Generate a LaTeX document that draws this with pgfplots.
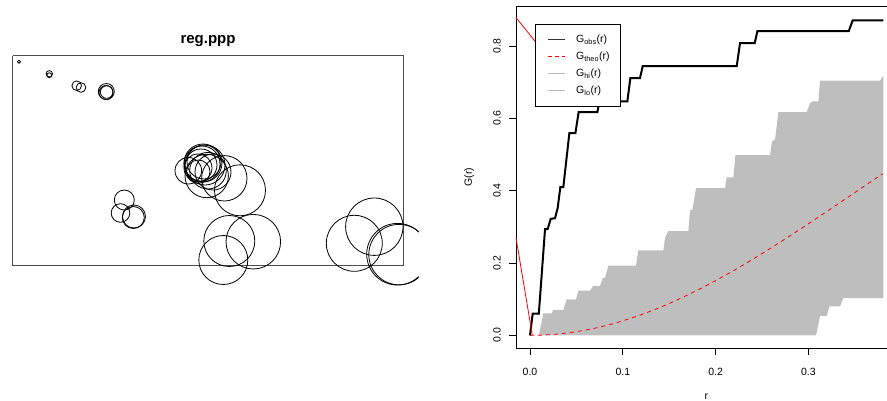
\documentclass[border=0pt]{standalone}
\usepackage{fontspec}
\setmainfont{Liberation Sans}
\usepackage{pgfplots}
\pgfplotsset{compat=1.18}
\usepackage{pgfplotstable}
\definecolor{rgrey}{RGB}{190,190,190}
\definecolor{rred}{RGB}{255,0,0}

\pgfplotstableread{
x y r
19 61.7 1.6
49.3 73.8 3.2
49.3 75.2 2.4
76.7 85.7 4.8
81.0 87.5 4.8
106.3 91.5 8.0
106.0 92.5 7.0
106.7 92.0 6.3
124.3 200 10
120.5 213 9.3
133.3 217.5 11
134 216.5 11.5
203 163 19
202 164 18
204 162 17
201 165 16
205 165 20
198 168 14
208 170.7 18.3
188.3 170.7 13.3
198.3 171.7 11.7
206.7 176 21.7
224.3 178.3 22.7
213 172 18
240 190.3 25.5
229.3 241 25.5
253.3 241.7 27.3
223.3 260 24.5
374.3 226.7 28.7
354.3 243.3 28
397.5 254.2 30.8
399 254.6 30.2
}\circles

\pgfplotstableread{
x y
0 0
0.0029 0.06
0.0095 0.06
0.0162 0.294
0.0190 0.294
0.0223 0.322
0.0270 0.324
0.0298 0.352
0.0327 0.410
0.0359 0.410
0.0424 0.559
0.0489 0.559
0.0524 0.617
0.0726 0.617
0.0747 0.647
0.1049 0.647
0.1081 0.711
0.1185 0.711
0.1214 0.744
0.2227 0.744
0.2263 0.808
0.2421 0.808
0.2450 0.841
0.3434 0.841
0.3477 0.871
0.3807 0.871
}\gobs

\pgfplotstableread{
x y
0 0
0.01 0.00041
0.02 0.00164
0.03 0.00368
0.04 0.00654
0.05 0.01020
0.06 0.01465
0.07 0.01989
0.08 0.02590
0.09 0.03266
0.10 0.04017
0.11 0.04840
0.12 0.05733
0.13 0.06694
0.14 0.07722
0.15 0.08813
0.16 0.09964
0.17 0.11175
0.18 0.12440
0.19 0.13758
0.20 0.15130
0.21 0.16541
0.22 0.18000
0.23 0.19500
0.24 0.21040
0.25 0.22607
0.26 0.24210
0.27 0.25839
0.28 0.27490
0.29 0.29164
0.30 0.30860
0.31 0.32565
0.32 0.34280
0.33 0.36013
0.34 0.37750
0.35 0.39483
0.36 0.41220
0.37 0.42954
0.38 0.44680
}\gtheo

\pgfplotstableread{
x y
0.0095 0
0.0144 0.0605
0.0233 0.0605
0.0251 0.070
0.0359 0.070
0.0395 0.0995
0.0496 0.0995
0.0521 0.124
0.0647 0.124
0.0682 0.137
0.0754 0.137
0.0783 0.158
0.0808 0.158
0.0844 0.1926
0.1142 0.1926
0.1167 0.235
0.1437 0.235
0.1455 0.270
0.1490 0.288
0.1706 0.288
0.1724 0.347
0.1749 0.347
0.1789 0.407
0.2101 0.407
0.2119 0.437
0.2191 0.437
0.2213 0.498
0.2586 0.498
0.2608 0.536
0.2640 0.541
0.2676 0.617
0.2981 0.617
0.3017 0.642
0.3046 0.647
0.3107 0.647
0.3125 0.704
0.3772 0.704
0.3807 0.718
0.3807 0.103
0.3376 0.103
0.3340 0.080
0.3226 0.080
0.3197 0.054
0.3125 0.054
0.3082 0
}\genv

\begin{document}
\begin{tikzpicture}
\useasboundingbox (0,0) rectangle (887pt,400pt);
% ---------------- left panel: point pattern ----------------
\begin{scope}
\clip (0pt,0pt) rectangle (418.5pt,400pt);
\begin{axis}[
  at={(0pt,0pt)}, anchor=south west,
  scale only axis, width=418.5pt, height=400pt,
  xmin=0, xmax=418.5, ymin=0, ymax=400, y dir=reverse,
  hide axis, clip=true,
]
\addplot[draw=black!70, line width=1pt] coordinates {(12.7,55.7) (403.7,55.7) (403.7,265.2) (12.7,265.2) (12.7,55.7)};
\addplot[scatter, only marks, mark=o,
  scatter/use mapped color={draw=black, fill=none},
  mark options={line width=0.8pt},
  visualization depends on={\thisrow{r} \as \prad},
  scatter/@pre marker code/.append style={/tikz/mark size=\prad}]
  table[x=x, y=y] {\circles};
\node[font=\bfseries\fontsize{15}{18}\selectfont, anchor=center] at (axis cs:208,41.5) {reg.ppp};
\end{axis}
\end{scope}
% ---------------- right panel: G envelope ----------------
\begin{axis}[
  at={(515.9pt,52pt)}, anchor=south west,
  scale only axis, width=380.9pt, height=341.4pt,
  xmin=-0.0152, xmax=0.3952, ymin=-0.03496, ymax=0.9089,
  axis line style={line width=0.8pt},
  tick align=outside, tick pos=left, major tick length=7pt,
  tick style={black, line width=0.8pt},
  xtick={0,0.1,0.2,0.3}, ytick={0,0.2,0.4,0.6,0.8},
  /pgf/number format/assume math mode=true,
  /pgf/number format/.cd, fixed, fixed zerofill, precision=1, /pgfplots/.cd,
  ticklabel style={font=\fontsize{10.5}{12}\selectfont},
  yticklabel style={rotate=90, anchor=south, inner sep=0pt},
  xticklabel style={anchor=north, inner sep=0pt},
  xticklabel shift=12.5pt, yticklabel shift=8pt,
  xlabel={r}, ylabel={G(r)},
  label style={font=\fontsize{10.5}{12}\selectfont},
  xlabel style={at={(axis description cs:0.5,-0.1508)}, anchor=base},
  ylabel style={at={(axis description cs:-0.1155,0.5)}, anchor=base, rotate=0},
  legend cell align=left,
  legend style={at={(axis cs:0.0057,0.8618)}, anchor=north west,
    draw=black, line width=0.8pt, inner xsep=11pt, inner ysep=7pt,
    font=\fontsize{10.5}{12}\selectfont, row sep=0pt,
    nodes={inner sep=0pt, minimum height=17pt, anchor=west},
    /tikz/every odd column/.style={column sep=10pt}},
]
\addplot[fill=rgrey, draw=none, forget plot] table[x=x, y=y] {\genv} -- cycle;
\addplot[rred, line width=0.8pt, dash pattern=on 4pt off 4pt, forget plot] table[x=x, y=y] {\gtheo};
\addplot[black, line width=2pt, forget plot] table[x=x, y=y] {\gobs};
\addplot[rred, line width=0.8pt, forget plot] coordinates {(-0.0152,0.879) (0.01864,0.771)};
\addplot[rred, line width=0.8pt, forget plot] coordinates {(-0.0152,0.2715) (0.0025,0)};
\addlegendimage{legend image code/.code={\draw[black!80, line width=1.8pt] (0pt,0pt) -- (17.7pt,0pt);}}
\addlegendentry{G\textsubscript{obs}(r)}
\addlegendimage{legend image code/.code={\draw[rred, line width=0.9pt, dash pattern=on 4pt off 3pt] (0pt,0pt) -- (17.7pt,0pt);}}
\addlegendentry{G\textsubscript{theo}(r)}
\addlegendimage{legend image code/.code={\draw[rgrey, line width=0.9pt] (0pt,0pt) -- (17.7pt,0pt);}}
\addlegendentry{G\textsubscript{hi}(r)}
\addlegendimage{legend image code/.code={\draw[rgrey, line width=0.9pt] (0pt,0pt) -- (17.7pt,0pt);}}
\addlegendentry{G\textsubscript{lo}(r)}
\end{axis}
\end{tikzpicture}
\end{document}
